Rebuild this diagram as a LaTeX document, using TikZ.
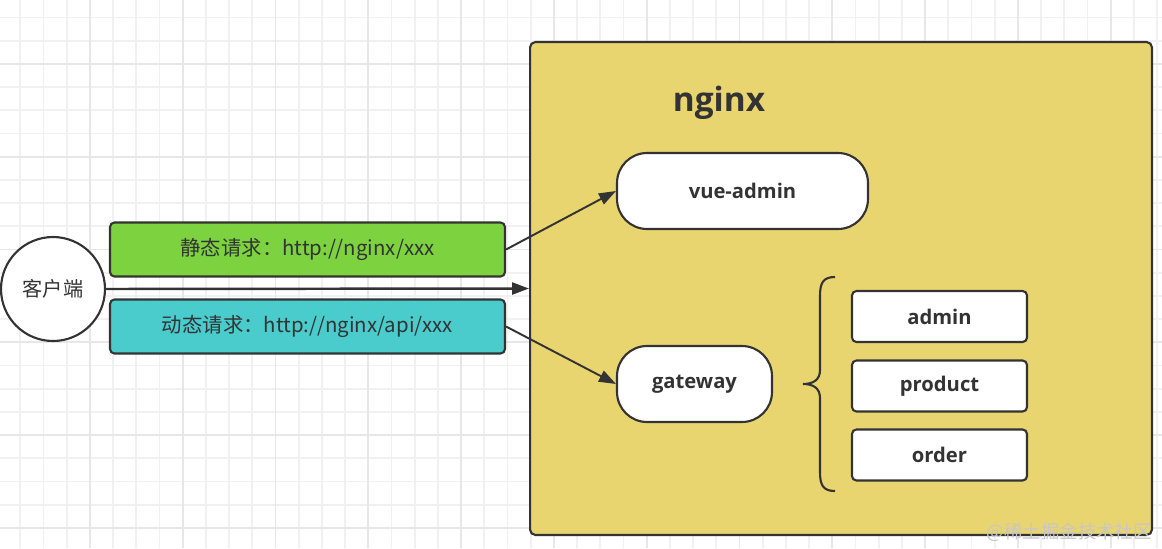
\documentclass[tikz,border=0pt]{standalone}
\usepackage{fontspec}
\setmainfont{Open Sans}
\newfontfamily\cjk{Noto Sans CJK SC}
\usetikzlibrary{arrows.meta}

\definecolor{linegray}{HTML}{333333}
\definecolor{reqgreen}{HTML}{7CD23F}
\definecolor{reqcyan}{HTML}{4ACBCC}
\definecolor{ngxyellow}{HTML}{E8D570}
\definecolor{gridminor}{HTML}{F1F1F1}
\definecolor{gridmajor}{HTML}{E7E7E7}

\tikzset{
  reqbox/.style={draw=linegray,line width=1.2pt,rounded corners=2.5pt,
    minimum width=7.9cm,minimum height=1.08cm,text=linegray,
    font=\cjk\fontsize{11.6}{13}\selectfont},
  pillbox/.style={draw=linegray,line width=1.2pt,fill=white,rounded corners=0.6cm,
    minimum height=1.52cm,text=linegray,font=\bfseries\fontsize{11.5}{13}\selectfont},
  svcbox/.style={draw=linegray,line width=1.2pt,fill=white,rounded corners=2.5pt,
    minimum width=3.5cm,minimum height=1.02cm,text=linegray,
    font=\bfseries\fontsize{11.5}{13}\selectfont},
  flow/.style={->,draw=linegray,line width=1.1pt}
}

\begin{document}
\begin{tikzpicture}[x=0.02cm,y=-0.02cm,>={Triangle[length=3.4mm,width=2.4mm]}]
  \useasboundingbox (0,0) rectangle (1162,548);
  % fondo cuadriculado
  \fill[white] (0,0) rectangle (1162,548);
  \foreach \i in {0,...,49} \draw[gridminor,line width=1pt] ({20.3+23.2*\i},0) -- ++(0,548);
  \foreach \j in {0,...,22} \draw[gridminor,line width=1pt] (0,{17.5+23.2*\j}) -- ++(1162,0);
  \foreach \i in {0,...,11} \draw[gridmajor,line width=1.1pt] ({89.9+92.8*\i},0) -- ++(0,548);
  \foreach \j in {0,...,5} \draw[gridmajor,line width=1.1pt] (0,{63.9+92.8*\j}) -- ++(1162,0);
  % cliente y peticiones
  \node[circle,draw=linegray,line width=1.2pt,fill=white,minimum size=2.08cm,
    text=linegray,font=\cjk\fontsize{11.5}{13}\selectfont] (client) at (53,289) {客户端};
  \node[reqbox,fill=reqgreen] (static) at (307.5,249.5) {静态请求：http://nginx/xxx};
  \node[reqbox,fill=reqcyan] (dynamic) at (307.5,326.5) {动态请求：http://nginx/api/xxx};
  % caja nginx
  \node[draw=linegray,line width=1.2pt,fill=ngxyellow,rounded corners=3pt,
    minimum width=12.44cm,minimum height=9.86cm] (nginxbox) at (841,288.5) {};
  \node[text=linegray,font=\bfseries\fontsize{19}{23}\selectfont] (title) at (719,103) {nginx};
  \node[pillbox,minimum width=5.02cm] (vue) at (742.5,191) {vue-admin};
  \node[pillbox,minimum width=3.1cm] (gateway) at (694.5,384) {gateway};
  % servicios
  \node[svcbox] (admin) at (939.5,316.5) {admin};
  \node[svcbox] (product) at (939.5,386) {product};
  \node[svcbox] (order) at (939.5,455) {order};
  % llave
  \draw[linegray,line width=1.2pt] (835,277) .. controls (823,277) and (820,283) .. (820,296)
    -- (820,370) .. controls (820,380) and (813,384) .. (803,384)
    .. controls (813,384) and (820,388) .. (820,398)
    -- (820,472) .. controls (820,485) and (823,491) .. (835,491);
  % conexiones
  \draw[flow,line width=1.4pt] (client.east) -- (nginxbox.west);
  \draw[flow] (static.east) -- (vue.west);
  \draw[flow] (dynamic.east) -- (gateway.west);
  % marca de agua
  \node[text=black!22,font=\cjk\fontsize{10.5}{12}\selectfont,anchor=east] (mark) at (1158,532) {@稀土掘金技术社区};
\end{tikzpicture}
\end{document}
